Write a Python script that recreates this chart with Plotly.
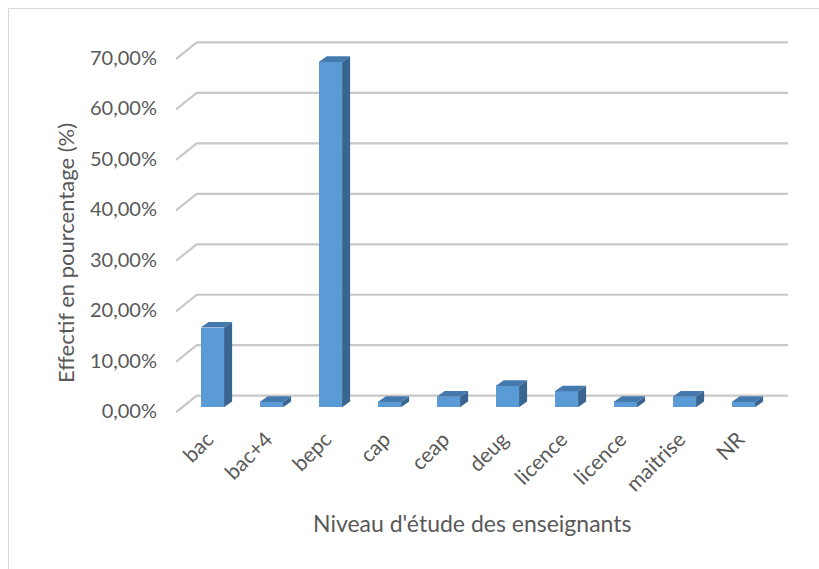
import plotly.graph_objects as go

# Niveau d'étude des enseignants : effectif en pourcentage
categories = ["bac", "bac+4", "bepc", "cap", "ceap", "deug", "licence", "licence", "maitrise", "NR"]
values = [15.79, 1.05, 68.42, 1.05, 2.11, 4.21, 3.16, 1.05, 2.11, 1.05]
grid_levels = [0, 10, 20, 30, 40, 50, 60, 70]
tick_labels = ["0,00%", "10,00%", "20,00%", "30,00%", "40,00%", "50,00%", "60,00%", "70,00%"]

W, H = 819, 569
# plot area in pixels
PL, PR, PT, PB = 176, 788, 30, 420
X_RANGE = [-0.617, 9.756]
Y_RANGE = [-2.52, 74.76]

FRONT = "#5b9bd5"
SIDE = "#3a6591"
TOP = "#4479ae"
GRID = "#c8c8c8"
TEXT = "#595959"
FONT = "Lato"

# pseudo-3D geometry (axis units)
HALF_W = 0.198          # half width of a column's front face
COL_DX, COL_DY = 0.136, 1.13   # column depth
FLOOR_FRONT = -0.99     # floor front edge offset
FLOOR_BACK = 2.3        # back wall offset
WALL_X0 = -0.266        # back wall left edge
GRID_X_FRONT = X_RANGE[0]
GRID_X_END = X_RANGE[1]

idx = list(range(len(categories)))

fig = go.Figure()

# front faces
fig.add_trace(go.Bar(
    x=idx, y=values, base=0, width=2 * HALF_W,
    marker=dict(color=FRONT, line=dict(width=0)),
    hoverinfo="skip", showlegend=False,
))

# side and top faces
side_x, side_y, top_x, top_y = [], [], [], []
for i, v in zip(idx, values):
    xr = i + HALF_W
    xl = i - HALF_W
    side_x += [xr, xr + COL_DX, xr + COL_DX, xr, xr, None]
    side_y += [0, COL_DY, v + COL_DY, v, 0, None]
    top_x += [xl, xr, xr + COL_DX, xl + COL_DX, xl, None]
    top_y += [v, v, v + COL_DY, v + COL_DY, v, None]

fig.add_trace(go.Scatter(x=side_x, y=side_y, mode="lines", fill="toself",
                         fillcolor=SIDE, line=dict(width=0, color=SIDE),
                         hoverinfo="skip", showlegend=False))
fig.add_trace(go.Scatter(x=top_x, y=top_y, mode="lines", fill="toself",
                         fillcolor=TOP, line=dict(width=0, color=TOP),
                         hoverinfo="skip", showlegend=False))

# gridlines: diagonal on the left side wall, then along the back wall
shapes = []
for lv in grid_levels:
    path = (f"M {GRID_X_FRONT},{lv + FLOOR_FRONT} "
            f"L {WALL_X0},{lv + FLOOR_BACK} "
            f"L {GRID_X_END},{lv + FLOOR_BACK}")
    shapes.append(dict(type="path", path=path, xref="x", yref="y",
                       line=dict(color=GRID, width=2.2), layer="below"))

pw, ph = PR - PL, PB - PT


def px_to_paper_x(p):
    return (p - PL) / pw


def px_to_paper_y(p):
    return (PB - p) / ph


# chart area border
shapes.append(dict(type="rect", xref="paper", yref="paper",
                   x0=px_to_paper_x(8.5), x1=px_to_paper_x(W + 5),
                   y0=px_to_paper_y(H + 5), y1=px_to_paper_y(8.5),
                   line=dict(color="#d9d9d9", width=1), layer="below"))

annotations = [
    dict(text="Niveau d'étude des enseignants", xref="paper", yref="paper",
         x=px_to_paper_x(472), y=px_to_paper_y(523), showarrow=False,
         xanchor="center", yanchor="middle",
         font=dict(family=FONT, size=23, color=TEXT)),
    dict(text="Effectif en pourcentage (%)", xref="paper", yref="paper",
         x=px_to_paper_x(65), y=px_to_paper_y(253), showarrow=False,
         textangle=-90, xanchor="center", yanchor="middle",
         font=dict(family=FONT, size=22, color=TEXT)),
]

fig.update_layout(
    width=W, height=H,
    margin=dict(l=PL, r=W - PR, t=PT, b=H - PB, pad=0),
    paper_bgcolor="white", plot_bgcolor="white",
    shapes=shapes, annotations=annotations,
    showlegend=False, bargap=0,
    xaxis=dict(range=X_RANGE, tickmode="array", tickvals=idx, ticktext=categories,
               tickangle=-45, showgrid=False, zeroline=False, showline=False,
               ticks="", ticklabelstandoff=2, ticklabelshift=-5,
               tickfont=dict(family=FONT, size=21, color=TEXT), fixedrange=True),
    yaxis=dict(range=Y_RANGE, tickmode="array",
               tickvals=[lv + FLOOR_FRONT + 0.2 for lv in grid_levels],
               ticktext=tick_labels, showgrid=False, zeroline=False, showline=False,
               ticks="", ticklabelstandoff=18,
               tickfont=dict(family=FONT, size=20, color=TEXT), fixedrange=True),
)

fig.write_html("out.html")
